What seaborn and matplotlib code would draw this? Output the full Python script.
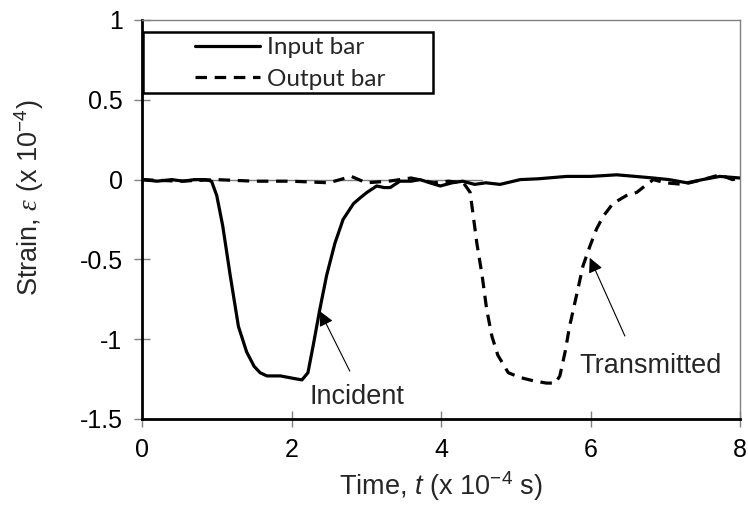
import matplotlib
matplotlib.use("Agg")
import matplotlib.pyplot as plt
from matplotlib.patches import Rectangle
import seaborn as sns
import pandas as pd

# ---- data ----
incident_t = [0.0, 0.2, 0.4, 0.55, 0.7, 0.85, 0.93, 1.0, 1.08, 1.18, 1.29, 1.40, 1.50,
              1.58, 1.67, 1.85, 2.02, 2.14, 2.22, 2.29, 2.38, 2.47, 2.58, 2.69, 2.83,
              2.93, 3.01, 3.14, 3.24, 3.32, 3.45, 3.6, 3.72, 3.85, 3.99, 4.15, 4.29,
              4.45, 4.6, 4.79, 5.06, 5.3, 5.68, 6.0, 6.35, 6.6, 6.84, 7.05, 7.29,
              7.5, 7.73, 8.0]
incident_eps = [0.0, -0.01, 0.0, -0.01, 0.0, 0.0, -0.01, -0.10, -0.29, -0.60, -0.92, -1.08,
                -1.17, -1.21, -1.23, -1.23, -1.245, -1.255, -1.21, -1.04, -0.81, -0.60,
                -0.40, -0.25, -0.15, -0.11, -0.08, -0.04, -0.05, -0.05, -0.01, -0.01,
                0.0, -0.02, -0.04, -0.02, -0.01, -0.03, -0.02, -0.03, 0.0, 0.005, 0.02,
                0.02, 0.03, 0.02, 0.01, 0.0, -0.02, 0.0, 0.02, 0.01]

transmitted_t = [0.0, 0.5, 1.0, 1.5, 2.0, 2.5, 2.8, 3.0, 3.3, 3.6, 3.9, 4.1, 4.3, 4.39,
                 4.48, 4.55, 4.61, 4.68, 4.76, 4.90, 5.06, 5.23, 5.41, 5.53, 5.59, 5.66,
                 5.72, 5.82, 5.90, 5.99, 6.08, 6.17, 6.30, 6.48, 6.62, 6.70, 6.84, 7.0,
                 7.24, 7.5, 7.73, 7.9, 8.0]
transmitted_eps = [0.0, -0.01, 0.0, -0.01, -0.01, -0.02, 0.02, -0.02, -0.01, 0.01, -0.02,
                   -0.01, -0.02, -0.08, -0.40, -0.60, -0.81, -0.98, -1.10, -1.21, -1.24,
                   -1.26, -1.275, -1.275, -1.23, -1.08, -0.92, -0.71, -0.54, -0.42, -0.31,
                   -0.23, -0.15, -0.10, -0.08, -0.05, 0.0, -0.02, -0.03, 0.0, 0.03, 0.0, 0.01]

zero_line_t = [0.0, 4.55]
zero_line_eps = [0.0, 0.0]

series_labels = ["Input bar", "Output bar"]
x_ticks = [0, 2, 4, 6, 8]
y_ticks = [-1.5, -1, -0.5, 0, 0.5, 1]
y_tick_labels = ["-1.5", "-1", "-0.5", "0", "0.5", "1"]

ann_incident = dict(text="Incident", tip=(2.38, -0.825), tail=(2.78, -1.2), label=(2.88, -1.36))
ann_transmitted = dict(text="Transmitted", tip=(5.99, -0.49), tail=(6.46, -0.98), label=(6.81, -1.17))

# ---- style ----
sns.set_theme(style="white")
plt.rcParams["font.family"] = ["Liberation Sans", "DejaVu Sans"]
plt.rcParams["mathtext.fontset"] = "custom"
plt.rcParams["mathtext.rm"] = "Liberation Sans"
plt.rcParams["mathtext.it"] = "Liberation Sans:italic"
plt.rcParams["mathtext.sf"] = "Liberation Serif:italic"

W, H = 748, 507
fig = plt.figure(figsize=(W / 100, H / 100), dpi=100)
ax = fig.add_axes([142 / W, 88 / H, 598 / W, 399 / H])

inc_df = pd.DataFrame({"t": incident_t, "eps": incident_eps})
tr_df = pd.DataFrame({"t": transmitted_t, "eps": transmitted_eps})

ax.plot(zero_line_t, zero_line_eps, color="#808080", lw=1.0, zorder=1)
sns.lineplot(data=inc_df, x="t", y="eps", ax=ax, color="black", lw=2.3,
             label=series_labels[0], sort=False, zorder=3)
sns.lineplot(data=tr_df, x="t", y="eps", ax=ax, color="black", lw=2.3,
             linestyle=(0, (3.6, 2.4)), label=series_labels[1], sort=False, zorder=3)

ax.set_xlim(0, 8)
ax.set_ylim(-1.5, 1)
ax.set_xticks(x_ticks)
ax.set_yticks(y_ticks)
ax.set_yticklabels(y_tick_labels)
ax.tick_params(axis="both", which="major", labelsize=18, direction="inout",
               length=12, width=1, color="#808080", labelcolor="black")
ax.tick_params(axis="x", pad=8)
ax.tick_params(axis="y", pad=8)
ax.tick_params(bottom=True, left=True, top=False, right=False)

for side in ["left", "bottom"]:
    ax.spines[side].set_color("black")
    ax.spines[side].set_linewidth(2.0)
for side in ["top", "right"]:
    ax.spines[side].set_color("#808080")
    ax.spines[side].set_linewidth(1.0)

ax.set_xlabel(r"Time, $t$ (x 10$^{-4}$ s)", fontsize=19.5, labelpad=5)
ax.set_ylabel(r"Strain, $\mathsf{\varepsilon}$ (x 10$^{-4}$)", fontsize=19.5)
ax.yaxis.set_label_coords(-0.16, (419 - 197.5) / 399)

# legend (content without frame) + frame box as in the reference
leg = ax.legend(loc="upper left", bbox_to_anchor=((195 - 142) / 598, (419 - 37) / 399),
                frameon=False, prop={"family": "Lato", "size": 17.5}, handlelength=2.67,
                handletextpad=0.29, labelspacing=0.45, borderpad=0, borderaxespad=0)
ax.add_patch(Rectangle(((143 - 142) / 598, (419 - 93) / 399), 290 / 598, 61 / 399,
                       transform=ax.transAxes, fill=False, edgecolor="black",
                       lw=1.8, zorder=5, clip_on=False))

for ann in (ann_incident, ann_transmitted):
    ax.annotate("", xy=ann["tip"], xytext=ann["tail"],
                arrowprops=dict(arrowstyle="-|>", color="black", lw=0.8,
                                mutation_scale=22, shrinkA=0, shrinkB=0))
    ax.text(ann["label"][0], ann["label"][1], ann["text"], fontsize=19.5,
            ha="center", va="center")

fig.savefig("out.png", dpi=100)
